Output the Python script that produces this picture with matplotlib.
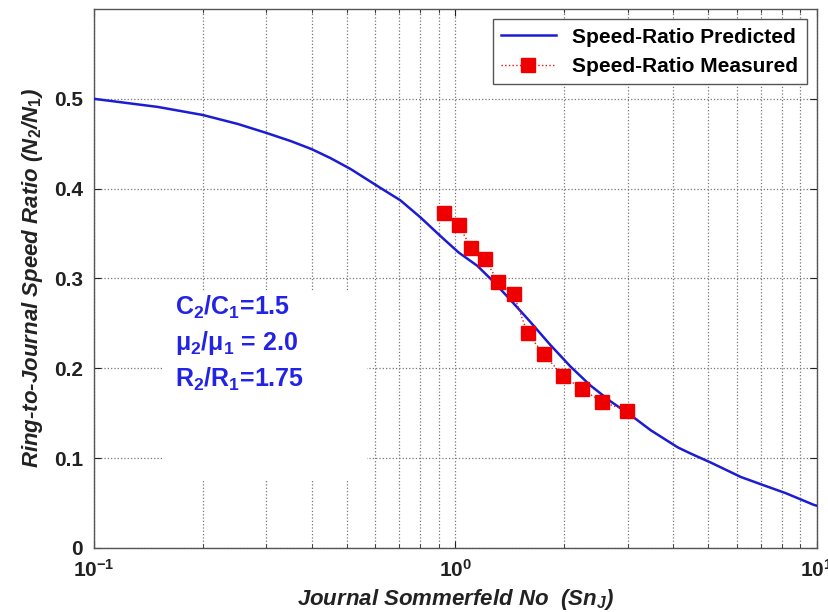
import matplotlib
matplotlib.use("Agg")
from matplotlib import pyplot as plt
from matplotlib.patches import Rectangle
from matplotlib.ticker import LogLocator, NullFormatter, FixedLocator

# predicted speed ratio curve
sn_pred = [0.1, 0.15, 0.2, 0.25, 0.3, 0.35, 0.4, 0.451, 0.512, 0.619, 0.704,
           0.8, 0.91, 1.02, 1.15, 1.27, 1.42, 1.6, 1.83, 2.08, 2.36, 2.69,
           3.05, 3.47, 4.12, 4.48, 5.09, 6.16, 7.1, 8.2, 9.8, 10.0]
ratio_pred = [0.500, 0.491, 0.482, 0.472, 0.462, 0.453, 0.444, 0.434, 0.422,
              0.401, 0.387, 0.368, 0.347, 0.329, 0.314, 0.297, 0.276, 0.253,
              0.226, 0.202, 0.181, 0.163, 0.148, 0.131, 0.112, 0.105, 0.095,
              0.079, 0.070, 0.061, 0.048, 0.047]

# measured points
sn_meas = [0.932, 1.02, 1.107, 1.203, 1.315, 1.447, 1.582, 1.753, 1.979,
           2.233, 2.536, 2.976]
ratio_meas = [0.373, 0.359, 0.334, 0.322, 0.296, 0.283, 0.239, 0.216, 0.192,
              0.177, 0.163, 0.153]

y_ticks = [0, 0.1, 0.2, 0.3, 0.4, 0.5]
y_ticklabels = ["0", "0.1", "0.2", "0.3", "0.4", "0.5"]
x_ticks = [0.1, 1, 10]
x_ticklabels = ["$10^{-1}$", "$10^{0}$", "$10^{1}$"]

plt.rcParams["font.family"] = ["Liberation Sans", "DejaVu Sans"]
plt.rcParams["font.weight"] = "bold"
plt.rcParams["mathtext.fontset"] = "custom"
plt.rcParams["mathtext.rm"] = "Liberation Sans:bold"
plt.rcParams["mathtext.it"] = "Liberation Sans:italic:bold"
plt.rcParams["mathtext.bf"] = "Liberation Sans:bold"

fig = plt.figure(figsize=(8.29, 6.12), dpi=100)
ax = fig.add_axes([0.1134, 0.1046, 0.8721, 0.8807])

ax.set_xscale("log")
ax.set_xlim(0.1, 10)
ax.set_ylim(0, 0.6)

# grid, matlab style
ax.grid(True, which="major", linestyle=":", color="#777777", linewidth=0.9)
ax.xaxis.set_minor_locator(LogLocator(base=10, subs=range(2, 10)))
ax.xaxis.set_minor_formatter(NullFormatter())
ax.grid(True, which="minor", axis="x", linestyle=":", color="#777777", linewidth=0.9)

# white background behind the parameter text (hides the grid there)
ax.add_patch(Rectangle((0.155, 0.075), 0.57 - 0.155, 0.21, facecolor="white",
                       edgecolor="none", zorder=2))

ax.plot(sn_pred, ratio_pred, "-", color="#1c1cd2", linewidth=1.8,
        label="Speed-Ratio Predicted", zorder=3)
ax.plot(sn_meas, ratio_meas, ":", color="#e81010", linewidth=1.0,
        marker="s", markersize=10, markerfacecolor="#ee0000",
        markeredgecolor="#ee0000", label="Speed-Ratio Measured", zorder=4)

ax.text(0.168, 0.283, "C$_2$/C$_1$=1.5\nμ$_2$/μ$_1$ = 2.0\nR$_2$/R$_1$=1.75",
        color="#2323e6", fontsize=18, fontweight="bold", va="top", ha="left",
        linespacing=1.4, zorder=5)

ax.yaxis.set_major_locator(FixedLocator(y_ticks))
ax.set_yticklabels(y_ticklabels)
ax.xaxis.set_major_locator(FixedLocator(x_ticks))
ax.set_xticklabels(x_ticklabels)

ax.tick_params(which="both", direction="in", top=True, right=True,
               labelsize=15, colors="#222222")
ax.tick_params(which="major", length=5, pad=8)
ax.tick_params(which="minor", length=3)
for lab in ax.get_xticklabels() + ax.get_yticklabels():
    lab.set_fontweight("bold")

for s in ax.spines.values():
    s.set_color("#555555")
    s.set_linewidth(1.0)

ax.set_xlabel("Journal Sommerfeld No  (Sn$_J$)", fontsize=16, fontweight="bold",
              fontstyle="italic", color="#222222", labelpad=4)
ax.set_ylabel("Ring-to-Journal Speed Ratio (N$_2$/N$_1$)", fontsize=16,
              fontweight="bold", fontstyle="italic", color="#222222", labelpad=6)

leg = ax.legend(loc="upper right", handlelength=2.6, fancybox=False,
                framealpha=1, borderaxespad=0.5,
                prop={"weight": "bold", "size": 15})
leg.get_frame().set_edgecolor("#555555")
leg.get_frame().set_linewidth(1.0)

plt.savefig("out.png", dpi=100)
